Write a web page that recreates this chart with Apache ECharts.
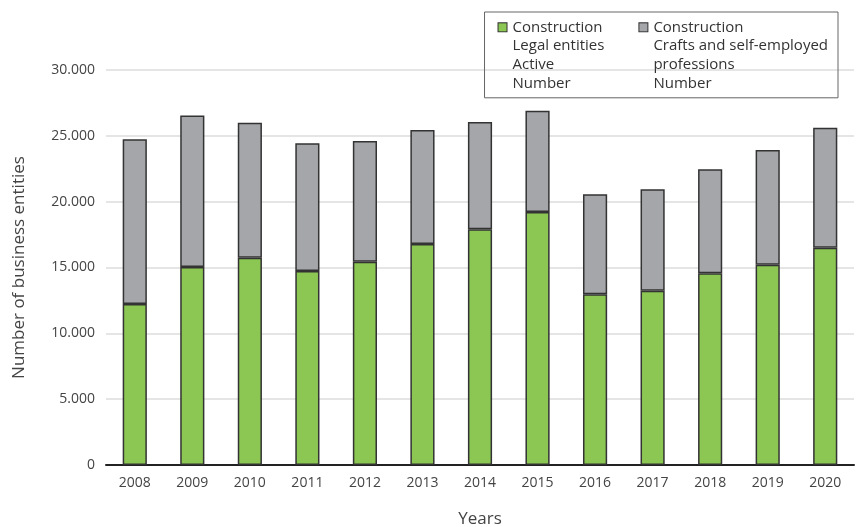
<!DOCTYPE html>
<html>
<head>
<meta charset="utf-8">
<script src="https://cdn.jsdelivr.net/npm/echarts@6/dist/echarts.min.js"></script>
<style>html,body{margin:0;padding:0;background:#fff}#c{width:857px;height:527px}</style>
</head>
<body>
<div id="c"></div>
<script>
const years = ['2008','2009','2010','2011','2012','2013','2014','2015','2016','2017','2018','2019','2020'];
const legalEntities = [12230, 15040, 15750, 14730, 15440, 16780, 17900, 19210, 12960, 13240, 14560, 15210, 16500];
const crafts = [12510, 11510, 10250, 9700, 9160, 8660, 8150, 7700, 7600, 7700, 7900, 8710, 9120];
const yTicks = [0, 5000, 10000, 15000, 20000, 25000, 30000];

const FONT = '"Open Sans", "Noto Sans", sans-serif';
const GREEN = '#8cc653';
const GREY = '#a5a6aa';
const EDGE = '#333333';

function fmt(v){ return String(v).replace(/\B(?=(\d{3})+(?!\d))/g, '.'); }

const chart = echarts.init(document.getElementById('c'));
const legendRich = {
  sqA: {width: 8, height: 8, backgroundColor: GREEN, borderColor: EDGE, borderWidth: 1},
  sqB: {width: 8, height: 8, backgroundColor: GREY, borderColor: EDGE, borderWidth: 1},
  sp: {width: 6},
  ind: {width: 14},
  t: {fontSize: 15, color: '#333', fontFamily: FONT, lineHeight: 18.7}
};
chart.setOption({
  animation: false,
  textStyle: {fontFamily: FONT},
  grid: {left: 106, right: 3, top: 70, bottom: 62, containLabel: false, outerBoundsMode: 'none'},
  legend: {
    right: 19, top: 12,
    orient: 'horizontal',
    itemWidth: 0, itemHeight: 0, itemGap: 29,
    borderColor: '#666', borderWidth: 1,
    padding: [6, 10, 5, 8],
    selectedMode: false,
    data: [
      {name: 'Construction Legal entities Active Number'},
      {name: 'Construction Crafts and self-employed professions Number'}
    ],
    formatter: function(name){
      if (name.indexOf('Legal') >= 0) {
        return '{sqA|}{sp|}{t|Construction}\n{ind|}{t|Legal entities}\n{ind|}{t|Active}\n{ind|}{t|Number}';
      }
      return '{sqB|}{sp|}{t|Construction}\n{ind|}{t|Crafts and self-employed}\n{ind|}{t|professions}\n{ind|}{t|Number}';
    },
    textStyle: {rich: legendRich, fontSize: 15, lineHeight: 18.7}
  },
  xAxis: {
    type: 'category',
    data: years,
    name: 'Years',
    nameLocation: 'middle',
    nameGap: 46,
    nameTextStyle: {fontSize: 17, color: '#444', fontFamily: FONT},
    axisLine: {lineStyle: {color: '#222', width: 2}},
    axisTick: {show: false},
    axisLabel: {fontSize: 14, color: '#444', margin: 11, fontFamily: FONT}
  },
  yAxis: {
    type: 'value',
    min: 0, max: 30000, interval: 5000,
    name: 'Number of business entities',
    nameLocation: 'middle',
    nameGap: 78,
    nameTextStyle: {fontSize: 17, color: '#444', fontFamily: FONT},
    axisLine: {show: false},
    axisTick: {show: false},
    axisLabel: {fontSize: 14, color: '#444', margin: 11, fontFamily: FONT,
      formatter: function(v){ return yTicks.indexOf(v) >= 0 ? fmt(v) : ''; }},
    splitLine: {lineStyle: {color: '#dcdcdc', width: 1.5}}
  },
  series: [
    {
      name: 'Construction Legal entities Active Number',
      type: 'bar', stack: 'total', barWidth: '42%',
      data: legalEntities,
      itemStyle: {color: GREEN, borderColor: EDGE, borderWidth: 1.5}
    },
    {
      name: 'Construction Crafts and self-employed professions Number',
      type: 'bar', stack: 'total', barWidth: '42%',
      data: crafts,
      itemStyle: {color: GREY, borderColor: EDGE, borderWidth: 1.5}
    }
  ]
});
</script>
</body>
</html>
